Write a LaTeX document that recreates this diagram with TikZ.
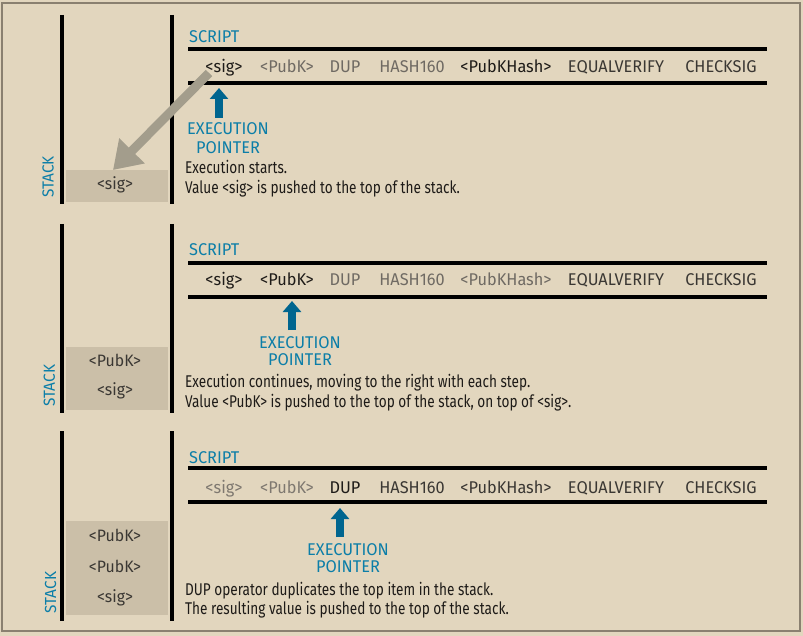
\documentclass[tikz,border=0pt]{standalone}
\usepackage{fontspec}
\setmainfont{Fira Sans}
\newfontfamily\descfont{Fira Sans}[FakeStretch=0.8]
\newfontfamily\itemfont{Fira Sans}[FakeStretch=0.96]
\usetikzlibrary{arrows.meta}
\definecolor{bg}{HTML}{E2D6BE}
\definecolor{framec}{HTML}{8A8070}
\definecolor{boxc}{HTML}{CBBFA8}
\definecolor{bluet}{HTML}{0C7EA8}
\definecolor{bluea}{HTML}{00658F}
\definecolor{grayarrow}{HTML}{A39D8C}
\definecolor{inkc}{HTML}{1E1B18}
\definecolor{darkc}{HTML}{3A3733}
\definecolor{grayc}{HTML}{6F6A63}
\definecolor{lgrayc}{HTML}{7E7870}
\tikzset{
  vbar/.style={line width=4pt, black},
  hrule/.style={line width=4pt, black},
  item/.style={font=\itemfont\fontsize{17}{18}\selectfont, inner sep=0pt, anchor=base},
  bluelbl/.style={text=bluet, font=\itemfont\fontsize{17}{17}\selectfont, inner sep=0pt},
  stacklbl/.style={text=bluet, font=\itemfont\fontsize{16}{17}\selectfont, inner sep=0pt, rotate=90},
  ptrlbl/.style={text=bluet, font=\itemfont\fontsize{17}{17}\selectfont, inner sep=0pt, anchor=base},
  desc/.style={text=inkc, font=\descfont\fontsize{17}{19}\selectfont, anchor=base west, inner sep=0pt},
  stackbox/.style={fill=boxc, draw=none, minimum width=102pt, inner sep=0pt},
  stackitem/.style={text=darkc, font=\itemfont\fontsize{16.5}{17}\selectfont, inner sep=0pt, anchor=base},
  ptr/.style={bluea, line width=8pt, -{Triangle[width=18pt,length=11pt]}},
  push/.style={grayarrow, line width=9pt, -{Triangle[width=34pt,length=27pt]}},
}
\begin{document}
\begin{tikzpicture}[x=1pt,y=-1pt]
\fill[bg] (0,0) rectangle (803,636);
\draw[framec, line width=1.2pt] (2,3) rectangle (800,631);

% ================= Panel 1 =================
\draw[vbar] (62,15) -- (62,204);
\draw[vbar] (172,15) -- (172,204);
\node[stackbox, minimum height=32pt] (box1) at (117,186) {};
\node[stackitem] (s1a) at (115,190) {<sig>};
\node[stacklbl] (stack1) at (48,177) {STACK};
\node[bluelbl, anchor=base west] (script1) at (189,43) {SCRIPT};
\draw[hrule] (188,49) -- (767,49);
\draw[hrule] (188,83) -- (767,83);
\node[item, text=inkc]  (p1i1) at (224,73) {<sig>};
\node[item, text=grayc] (p1i2) at (287,73) {<PubK>};
\node[item, text=grayc] (p1i3) at (345,73) {DUP};
\node[item, text=grayc] (p1i4) at (412,73) {HASH160};
\node[item, text=inkc]  (p1i5) at (506,73) {<PubKHash>};
\node[item, text=darkc] (p1i6) at (616,73) {EQUALVERIFY};
\node[item, text=darkc] (p1i7) at (721,73) {CHECKSIG};
\node[ptrlbl] (ex1) at (228,135) {EXECUTION};
\node[ptrlbl] (po1) at (228,154) {POINTER};
\coordinate (ptr1tail) at (219,118);
\coordinate (ptr1tip) at (219,88);
\draw[ptr] (ptr1tail) -- (ptr1tip);
\node[desc] (d1a) at (185,174) {Execution starts.};
\node[desc] (d1b) at (185,194) {Value <sig> is pushed to the top of the stack.};
\coordinate (push1a) at (209,73);
\coordinate (push1b) at (113,170);
\draw[push] (push1a) -- (push1b);

% ================= Panel 2 =================
\draw[vbar] (62,224) -- (62,413);
\draw[vbar] (172,224) -- (172,413);
\node[stackbox, minimum height=63pt] (box2) at (117,378.5) {};
\node[stackitem] (s2a) at (115,366.5) {<PubK>};
\node[stackitem] (s2b) at (115,395) {<sig>};
\node[stacklbl] (stack2) at (49.3,385.5) {STACK};
\node[bluelbl, anchor=base west] (script2) at (189,255.5) {SCRIPT};
\draw[hrule] (188,263) -- (767,263);
\draw[hrule] (188,297) -- (767,297);
\node[item, text=inkc]  (p2i1) at (224,286) {<sig>};
\node[item, text=inkc]  (p2i2) at (287,286) {<PubK>};
\node[item, text=grayc] (p2i3) at (345,286) {DUP};
\node[item, text=grayc] (p2i4) at (412,286) {HASH160};
\node[item, text=grayc] (p2i5) at (506,286) {<PubKHash>};
\node[item, text=darkc] (p2i6) at (616,286) {EQUALVERIFY};
\node[item, text=darkc] (p2i7) at (721,286) {CHECKSIG};
\node[ptrlbl] (ex2) at (300,348) {EXECUTION};
\node[ptrlbl] (po2) at (300,365) {POINTER};
\coordinate (ptr2tail) at (292,330);
\coordinate (ptr2tip) at (292,301);
\draw[ptr] (ptr2tail) -- (ptr2tip);
\node[desc] (d2a) at (185,387) {Execution continues, moving to the right with each step.};
\node[desc] (d2b) at (185,407) {Value <PubK> is pushed to the top of the stack, on top of <sig>.};

% ================= Panel 3 =================
\draw[vbar] (62,431) -- (62,621);
\draw[vbar] (172,431) -- (172,621);
\node[stackbox, minimum height=94pt] (box3) at (117,568) {};
\node[stackitem] (s3a) at (115,541.5) {<PubK>};
\node[stackitem] (s3b) at (115,572.5) {<PubK>};
\node[stackitem] (s3c) at (115,602.5) {<sig>};
\node[stacklbl] (stack3) at (50.5,592.5) {STACK};
\node[bluelbl, anchor=base west] (script3) at (189,463) {SCRIPT};
\draw[hrule] (188,468) -- (767,468);
\draw[hrule] (188,502) -- (767,502);
\node[item, text=lgrayc] (p3i1) at (224,493) {<sig>};
\node[item, text=lgrayc] (p3i2) at (287,493) {<PubK>};
\node[item, text=inkc]   (p3i3) at (345,493) {DUP};
\node[item, text=darkc]  (p3i4) at (412,493) {HASH160};
\node[item, text=darkc]  (p3i5) at (506,493) {<PubKHash>};
\node[item, text=darkc]  (p3i6) at (616,493) {EQUALVERIFY};
\node[item, text=darkc]  (p3i7) at (721,493) {CHECKSIG};
\node[ptrlbl] (ex3) at (348,555) {EXECUTION};
\node[ptrlbl] (po3) at (348,572) {POINTER};
\coordinate (ptr3tail) at (340,537);
\coordinate (ptr3tip) at (340,508);
\draw[ptr] (ptr3tail) -- (ptr3tip);
\node[desc] (d3a) at (185,595) {DUP operator duplicates the top item in the stack.};
\node[desc] (d3b) at (185,614) {The resulting value is pushed to the top of the stack.};
\end{tikzpicture}
\end{document}
